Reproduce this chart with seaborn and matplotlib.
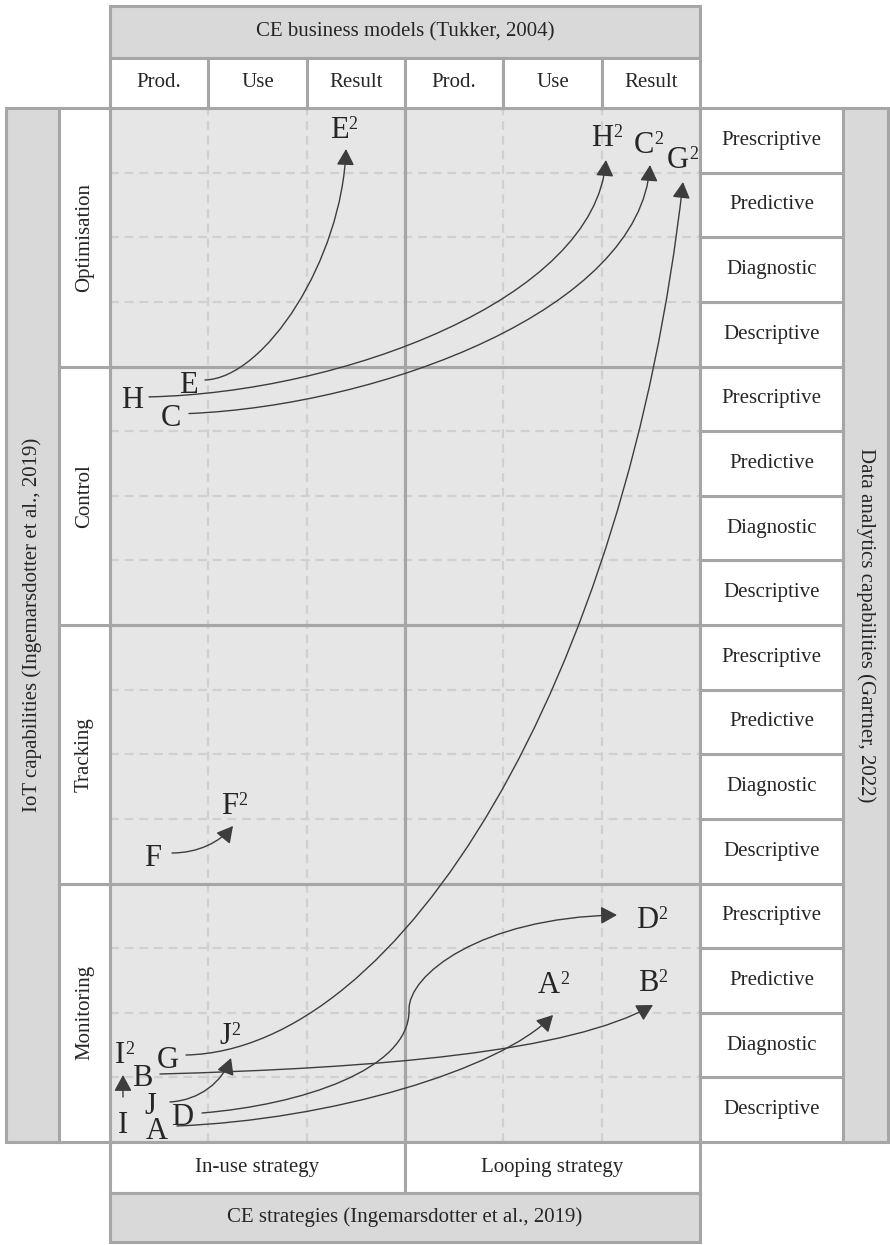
import matplotlib.pyplot as plt
import seaborn as sns
from matplotlib.patches import Rectangle, FancyArrowPatch
from matplotlib.path import Path

sns.set_theme(style="white")
plt.rcParams['font.family'] = ['Liberation Serif', 'DejaVu Serif']

# categories (grid units: 1 column per business model, 1 row per analytics level)
bm_cols = ['Prod.', 'Use', 'Result', 'Prod.', 'Use', 'Result']
strategies = ['In-use strategy', 'Looping strategy']
iot_caps = ['Monitoring', 'Tracking', 'Control', 'Optimisation']          # bottom -> top
analytics = ['Descriptive', 'Diagnostic', 'Predictive', 'Prescriptive']   # bottom -> top in each block

top_title = 'CE business models (Tukker, 2004)'
bottom_title = 'CE strategies (Ingemarsdotter et al., 2019)'
left_title = 'IoT capabilities (Ingemarsdotter et al., 2019)'
right_title = 'Data analytics capabilities (Gartner, 2022)'

# cases: where each one starts and where it ends up
cases = ['A', 'B', 'C', 'D', 'E', 'F', 'G', 'H', 'I', 'J']
from_x = [0.478, 0.325, 0.620, 0.732, 0.793, 0.437, 0.590, 0.224, 0.132, 0.412]
from_y = [0.217, 1.03, 11.25, 0.433, 11.76, 4.44, 1.315, 11.53, 0.309, 0.60]
to_x = [4.465, 5.471, 5.431, 5.461, 2.329, 1.220, 5.776, 5.003, 0.102, 1.170]
to_y = [2.476, 2.507, 15.474, 3.482, 15.706, 5.246, 15.242, 15.582, 1.393, 1.687]

# bezier control points of the arrows
arrow_x = {
    'A': [0.681, 2.238, 3.966, 4.506],
    'B': [0.508, 2.746, 4.678, 5.522],
    'C': [0.803, 2.746, 5.390, 5.492],
    'D': [0.936, 1.932, 3.051, 3.041, 3.031, 3.763, 5.156],
    'E': [0.966, 1.576, 2.360, 2.400],
    'F': [0.631, 0.895, 1.119, 1.251],
    'G': [0.773, 2.949, 5.257, 5.827],
    'H': [0.397, 2.339, 4.932, 5.044],
    'I': [0.132, 0.132, 0.132, 0.132],
    'J': [0.610, 0.915, 1.139, 1.231],
}
arrow_y = {
    'A': [0.248, 0.341, 1.114, 1.965],
    'B': [1.052, 1.145, 1.393, 2.120],
    'C': [11.272, 11.396, 12.875, 15.118],
    'D': [0.449, 0.573, 1.114, 2.043, 2.584, 3.466, 3.513],
    'E': [11.791, 11.822, 13.647, 15.366],
    'F': [4.472, 4.472, 4.642, 4.890],
    'G': [1.346, 1.424, 7.118, 14.855],
    'H': [11.530, 11.592, 13.029, 15.195],
    'I': [0.696, 0.805, 0.929, 1.037],
    'J': [0.619, 0.650, 0.928, 1.300],
}

header_grey = '#d9d9d9'
cell_bg = '#e6e6e6'
edge = '#a6a6a6'
dash_col = '#d0d0d0'
arrow_col = '#3d3d3d'
lw_edge = 2.2
fs = 15

fig = plt.figure(figsize=(8.9, 12.45), dpi=100)
ax = fig.add_axes([110 / 890, 103 / 1245, 590 / 890, 1034 / 1245])
ax.set_xlim(0, len(bm_cols))
ax.set_ylim(0, len(iot_caps) * len(analytics))
ax.axis('off')

n_cols = len(bm_cols)
n_rows = len(iot_caps) * len(analytics)


def cell(x, y, w, h, fc, z=2):
    ax.add_patch(Rectangle((x, y), w, h, facecolor=fc, edgecolor=edge, lw=lw_edge,
                           clip_on=False, zorder=z))


# main grid background + dashed guides
ax.add_patch(Rectangle((0, 0), n_cols, n_rows, facecolor=cell_bg, edgecolor='none', zorder=0))
for r in range(1, n_rows):
    if r % len(analytics):
        ax.hlines(r, 0, n_cols, colors=dash_col, lw=1.6, linestyles=(0, (4, 2.6)), zorder=1)
for c in range(1, n_cols):
    if c != 3:
        ax.vlines(c, 0, n_rows, colors=dash_col, lw=1.6, linestyles=(0, (4, 2.6)), zorder=1)
for i in range(len(strategies)):
    for j in range(len(iot_caps)):
        cell(i * 3, j * 4, 3, 4, 'none', z=2)

# top header
cell(0, 16.774, n_cols, 0.804, header_grey)
ax.text(n_cols / 2, 17.176, top_title, ha='center', va='center', fontsize=fs)
for i, lab in enumerate(bm_cols):
    cell(i, 16, 1, 0.774, 'white')
    ax.text(i + 0.5, 16.387, lab, ha='center', va='center', fontsize=fs)

# bottom strategies
for i, lab in enumerate(strategies):
    cell(i * 3, -0.789, 3, 0.789, 'white')
    ax.text(i * 3 + 1.5, -0.395, lab, ha='center', va='center', fontsize=fs)
cell(0, -1.547, n_cols, 0.758, header_grey)
ax.text(n_cols / 2, -1.168, bottom_title, ha='center', va='center', fontsize=fs)

# left side
cell(-1.058, 0, 0.539, n_rows, header_grey)
ax.text(-0.789, n_rows / 2, left_title, ha='center', va='center', rotation=90, fontsize=fs)
for j, lab in enumerate(iot_caps):
    cell(-0.519, j * 4, 0.519, 4, 'white')
    ax.text(-0.26, j * 4 + 2, lab, ha='center', va='center', rotation=90, fontsize=fs)

# right side
for j in range(len(iot_caps)):
    for k, lab in enumerate(analytics):
        r = j * 4 + k
        cell(n_cols, r, 1.454, 1, 'white')
        ax.text(n_cols + 0.727, r + 0.5, lab, ha='center', va='center', fontsize=fs)
cell(n_cols + 1.454, 0, 0.458, n_rows, header_grey)
ax.text(n_cols + 1.683, n_rows / 2, right_title, ha='center', va='center', rotation=270, fontsize=fs)

# arrows
for c in cases:
    verts = list(zip(arrow_x[c], arrow_y[c]))
    codes = [Path.MOVETO] + [Path.CURVE4] * (len(verts) - 1)
    ax.add_patch(FancyArrowPatch(path=Path(verts, codes),
                                 arrowstyle='-|>,head_length=0.55,head_width=0.3',
                                 mutation_scale=18, color=arrow_col, lw=1.0, zorder=5))

# case letters
for c, x0, y0, x1, y1 in zip(cases, from_x, from_y, to_x, to_y):
    ax.text(x0, y0, c, ha='center', va='center_baseline', fontsize=22, zorder=6)
    t = ax.text(x1, y1, c, ha='center', va='center_baseline', fontsize=22, zorder=6)
    ax.annotate('2', xy=(1, 0.72), xycoords=t, xytext=(0, 0), textcoords='offset points',
                ha='left', va='center', fontsize=13, zorder=6)

fig.savefig('out.png', dpi=100)
